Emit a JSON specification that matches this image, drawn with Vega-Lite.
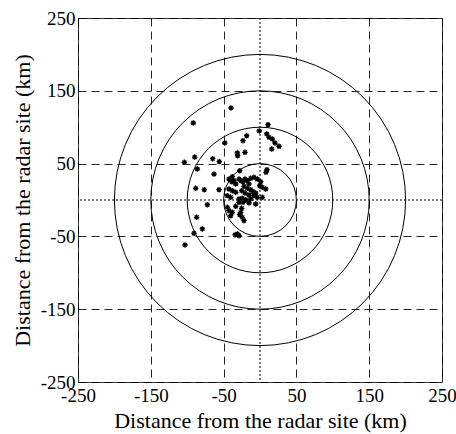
{
  "$schema": "https://vega.github.io/schema/vega-lite/v6.json",
  "width": 364,
  "height": 364,
  "autosize": "none",
  "padding": {"left": 78, "top": 18, "right": 14, "bottom": 52},
  "background": "white",
  "config": {
    "view": {"stroke": "#333333", "strokeWidth": 1},
    "font": "Times New Roman",
    "axis": {
      "labelFont": "Times New Roman",
      "labelFontSize": 19,
      "labelColor": "black",
      "titleFont": "Times New Roman",
      "titleFontSize": 22,
      "titleFontWeight": "normal",
      "titleColor": "black",
      "domain": false,
      "ticks": false,
      "labelFlush": false,
      "grid": true,
      "gridColor": "black",
      "gridDash": [8, 5],
      "gridWidth": 1,
      "gridOpacity": 0.85
    }
  },
  "datasets": {
    "rings": [{"r": 50}, {"r": 100}, {"r": 150}, {"r": 200}],
    "points": [
      {"x": -39.8, "y": 126.4}, {"x": -91.6, "y": 105.8}, {"x": 11, "y": 103.5}, {"x": -1, "y": 94.8},
      {"x": -18.3, "y": 88.4}, {"x": -23.4, "y": 81.5}, {"x": -48.5, "y": 78.3}, {"x": 9.2, "y": 90.7},
      {"x": 12.4, "y": 86.1}, {"x": 16.9, "y": 83.8}, {"x": 20.6, "y": 78.3}, {"x": 26.1, "y": 73.7},
      {"x": 16, "y": 70}, {"x": -31.1, "y": 64.6}, {"x": -20.6, "y": 65.5}, {"x": -30.7, "y": 60.9},
      {"x": -89.7, "y": 59}, {"x": -65, "y": 56.7}, {"x": -55.9, "y": 52.7}, {"x": -103.9, "y": 51.7},
      {"x": -86.1, "y": 42.6}, {"x": -63.2, "y": 35.7}, {"x": -27.9, "y": 40.3}, {"x": 9.6, "y": 41.7},
      {"x": 8.2, "y": 38}, {"x": -38, "y": 32}, {"x": -88.4, "y": 16}, {"x": -76.5, "y": 14.2},
      {"x": -56.3, "y": 14.2}, {"x": -72.3, "y": -6.4}, {"x": -87, "y": -23.8}, {"x": -79.2, "y": -39.8},
      {"x": -90.7, "y": -45.8}, {"x": -103, "y": -61.8}, {"x": -31.1, "y": -46.7}, {"x": -28.8, "y": -49},
      {"x": -34.3, "y": -48},
      {"x": -42.6, "y": 28.8}, {"x": -38.9, "y": 25.2}, {"x": -35.7, "y": 26.6}, {"x": -33.4, "y": 22},
      {"x": -28.8, "y": 28.8}, {"x": -26.1, "y": 26.6}, {"x": -23.4, "y": 25.2}, {"x": -20.6, "y": 28.8},
      {"x": -17.4, "y": 26.6}, {"x": -15.1, "y": 22}, {"x": -12.8, "y": 29.8}, {"x": -8.2, "y": 31.1},
      {"x": -3.7, "y": 28.8}, {"x": 0.9, "y": 25.2}, {"x": -0.5, "y": 19.7}, {"x": 3.2, "y": 17.4},
      {"x": 7.8, "y": 15.1}, {"x": -22, "y": 18.8}, {"x": -17.4, "y": 16}, {"x": -12.8, "y": 14.2},
      {"x": -9.6, "y": 11.4}, {"x": -6, "y": 9.6}, {"x": -25.2, "y": 12.8}, {"x": -20.6, "y": 9.6},
      {"x": -15.1, "y": 6.9}, {"x": -8.2, "y": 6}, {"x": -3.7, "y": 3.7}, {"x": -42.6, "y": 15.1},
      {"x": -38, "y": 12.8}, {"x": -33.4, "y": 10.5}, {"x": -44.9, "y": 6}, {"x": -40.3, "y": 3.7},
      {"x": -28.8, "y": 1.4}, {"x": -24.3, "y": 2.3}, {"x": -19.7, "y": 0.5}, {"x": -12.8, "y": 1.4},
      {"x": 3.2, "y": 3.7}, {"x": -28.8, "y": -3.2}, {"x": -23.4, "y": -3.2}, {"x": -15.1, "y": -4.1},
      {"x": -6, "y": -5.5}, {"x": -33.4, "y": -8.7}, {"x": -44.9, "y": -10.1}, {"x": -42.6, "y": -14.7},
      {"x": -38, "y": -16.9}, {"x": -40.3, "y": -21.5}, {"x": -25.2, "y": -11.4}, {"x": -26.6, "y": -16.9},
      {"x": -24.3, "y": -23.8}, {"x": -22, "y": -28.4}, {"x": -27.9, "y": -20.1}
    ]
  },
  "layer": [
    {
      "data": {"name": "points"},
      "mark": {
        "type": "point",
        "shape": "M-1,0L1,0M0,-1L0,1M-0.7,-0.7L0.7,0.7M-0.7,0.7L0.7,-0.7",
        "filled": false,
        "stroke": "black",
        "strokeWidth": 1.3,
        "size": 30,
        "opacity": 1
      },
      "encoding": {
        "x": {
          "field": "x", "type": "quantitative",
          "scale": {"domain": [-250, 250], "nice": false, "zero": false},
          "axis": {"values": [-250, -150, -50, 50, 150, 250], "labelExpr": "replace(datum.label, '−', '-')", "title": "Distance from the radar site (km)", "labelFont": "Times New Roman", "titleFont": "Times New Roman", "labelPadding": 4, "titlePadding": 5}
        },
        "y": {
          "field": "y", "type": "quantitative",
          "scale": {"domain": [-250, 250], "nice": false, "zero": false},
          "axis": {"values": [-250, -150, -50, 50, 150, 250], "labelExpr": "replace(datum.label, '−', '-')", "title": "Distance from the radar site (km)", "labelFont": "Times New Roman", "titleFont": "Times New Roman", "labelPadding": 3, "titlePadding": 6}
        }
      }
    },
    {
      "data": {"name": "rings"},
      "mark": {"type": "arc", "filled": false, "fill": null, "stroke": "black", "strokeWidth": 1, "theta": 6.2832},
      "encoding": {
        "radius": {"field": "r", "type": "quantitative", "stack": null, "scale": {"type": "linear", "domain": [0, 250], "range": [0, 182]}}
      }
    },
    {
      "data": {"values": [{"v": 0}]},
      "mark": {"type": "rule", "color": "black", "strokeDash": [2, 2], "strokeWidth": 1},
      "encoding": {"x": {"field": "v", "type": "quantitative"}}
    },
    {
      "data": {"values": [{"v": 0}]},
      "mark": {"type": "rule", "color": "black", "strokeDash": [2, 2], "strokeWidth": 1},
      "encoding": {"y": {"field": "v", "type": "quantitative"}}
    }
  ]
}
